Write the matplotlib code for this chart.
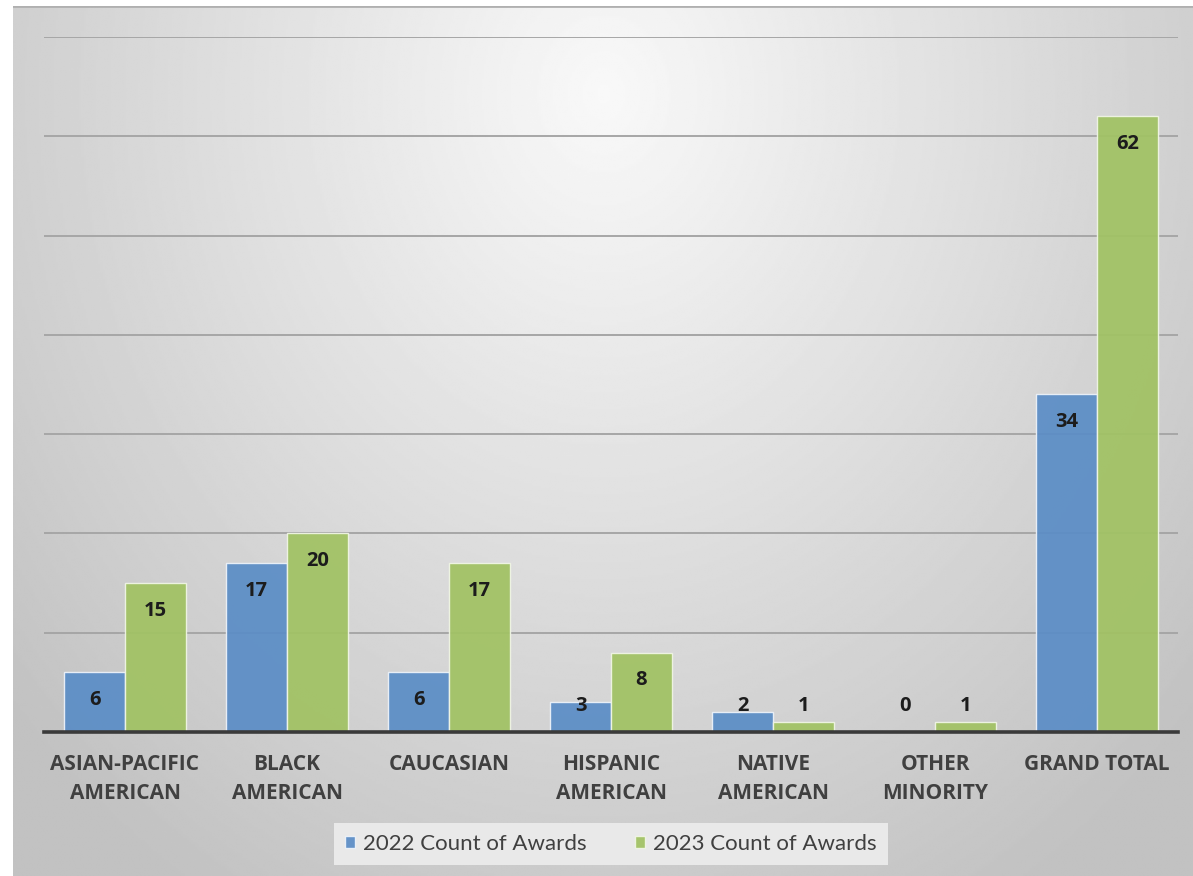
import numpy as np
import matplotlib.pyplot as plt

# Award counts by group
categories = ['ASIAN-PACIFIC\nAMERICAN', 'BLACK\nAMERICAN', 'CAUCASIAN',
              'HISPANIC\nAMERICAN', 'NATIVE\nAMERICAN', 'OTHER\nMINORITY',
              'GRAND TOTAL']
awards_2022 = [6, 17, 6, 3, 2, 0, 34]
awards_2023 = [15, 20, 17, 8, 1, 1, 62]
series_names = ['2022 Count of Awards', '2023 Count of Awards']

blue = '#5b8dc6'
green = '#a1c263'
text_dark = '#1c1c1c'
text_gray = '#404040'
bold_font = ['Open Sans', 'DejaVu Sans']

plt.rcParams['font.family'] = ['Lato', 'DejaVu Sans']

fig = plt.figure(figsize=(11.93, 8.76), dpi=100)
fig.patch.set_facecolor('white')

# soft radial backdrop behind the chart
bg = fig.add_axes([13 / 1193, 0, 1 - 13 / 1193, 1 - 6 / 876], zorder=-10)
h, w = 400, 560
yy, xx = np.mgrid[0:h, 0:w]
r = np.sqrt(((xx - w * 0.5) / (w * 0.62)) ** 2 + ((yy - h * 0.1) / (h * 1.0)) ** 2)
shade = np.clip(0.975 - 0.2 * r, 0.76, 1.0)
bg.imshow(shade, cmap='gray', vmin=0, vmax=1, aspect='auto',
          extent=(0, 1, 0, 1), origin='upper', interpolation='bilinear')
bg.plot([0, 1], [1, 1], color='#b0b0b0', lw=2, transform=bg.transAxes)
bg.set_xlim(0, 1)
bg.set_ylim(0, 1)
bg.axis('off')

ax = fig.add_axes([44 / 1193, 1 - 732 / 876, (1178 - 44) / 1193, (732 - 37) / 876])
ax.patch.set_alpha(0)

x = np.arange(len(categories))
width = 0.375
b1 = ax.bar(x - width / 2, awards_2022, width, color=blue, alpha=0.93,
            edgecolor='#eef3fa', linewidth=1, zorder=3, label=series_names[0])
b2 = ax.bar(x + width / 2, awards_2023, width, color=green, alpha=0.93,
            edgecolor='#f1f6e6', linewidth=1, zorder=3, label=series_names[1])

# value labels sit just inside the top of each bar
for bars, vals in ((b1, awards_2022), (b2, awards_2023)):
    for bar, v in zip(bars, vals):
        ypos = max(v - 2.8, 2.6)
        ax.text(bar.get_x() + bar.get_width() / 2, ypos, str(v),
                ha='center', va='center', fontsize=14.5, fontweight='bold',
                family=bold_font, color=text_dark, zorder=5)

ax.set_xlim(-0.5, len(categories) - 0.5)
ax.set_ylim(0, 70)
ax.set_yticks(np.arange(0, 71, 10))
ax.yaxis.grid(True, color='#a6a6a6', linewidth=1.4, zorder=1)
ax.set_axisbelow(True)
ax.tick_params(axis='y', left=False, labelleft=False)
ax.tick_params(axis='x', length=0, pad=15.5)
ax.set_xticks(x)
ax.set_xticklabels(categories, fontsize=15, fontweight='bold', family=bold_font,
                   color=text_gray, linespacing=1.55, va='top')

for side in ('top', 'right', 'left'):
    ax.spines[side].set_visible(False)
ax.spines['bottom'].set_color('#3a3a3a')
ax.spines['bottom'].set_linewidth(2.6)
ax.spines['bottom'].set_zorder(6)

leg = fig.legend(handles=[b1, b2], labels=series_names, loc='center',
                 bbox_to_anchor=(611 / 1193, 1 - 844 / 876), ncol=2,
                 fontsize=16, frameon=True, fancybox=False,
                 handlelength=0.45, handleheight=0.45, handletextpad=0.35,
                 columnspacing=2.2, borderpad=0.5, borderaxespad=0)
leg.get_frame().set_facecolor('#e9e9e9')
leg.get_frame().set_edgecolor('none')
leg.get_frame().set_alpha(1)
for t in leg.get_texts():
    t.set_color(text_gray)

fig.savefig('out.png', dpi=100)
